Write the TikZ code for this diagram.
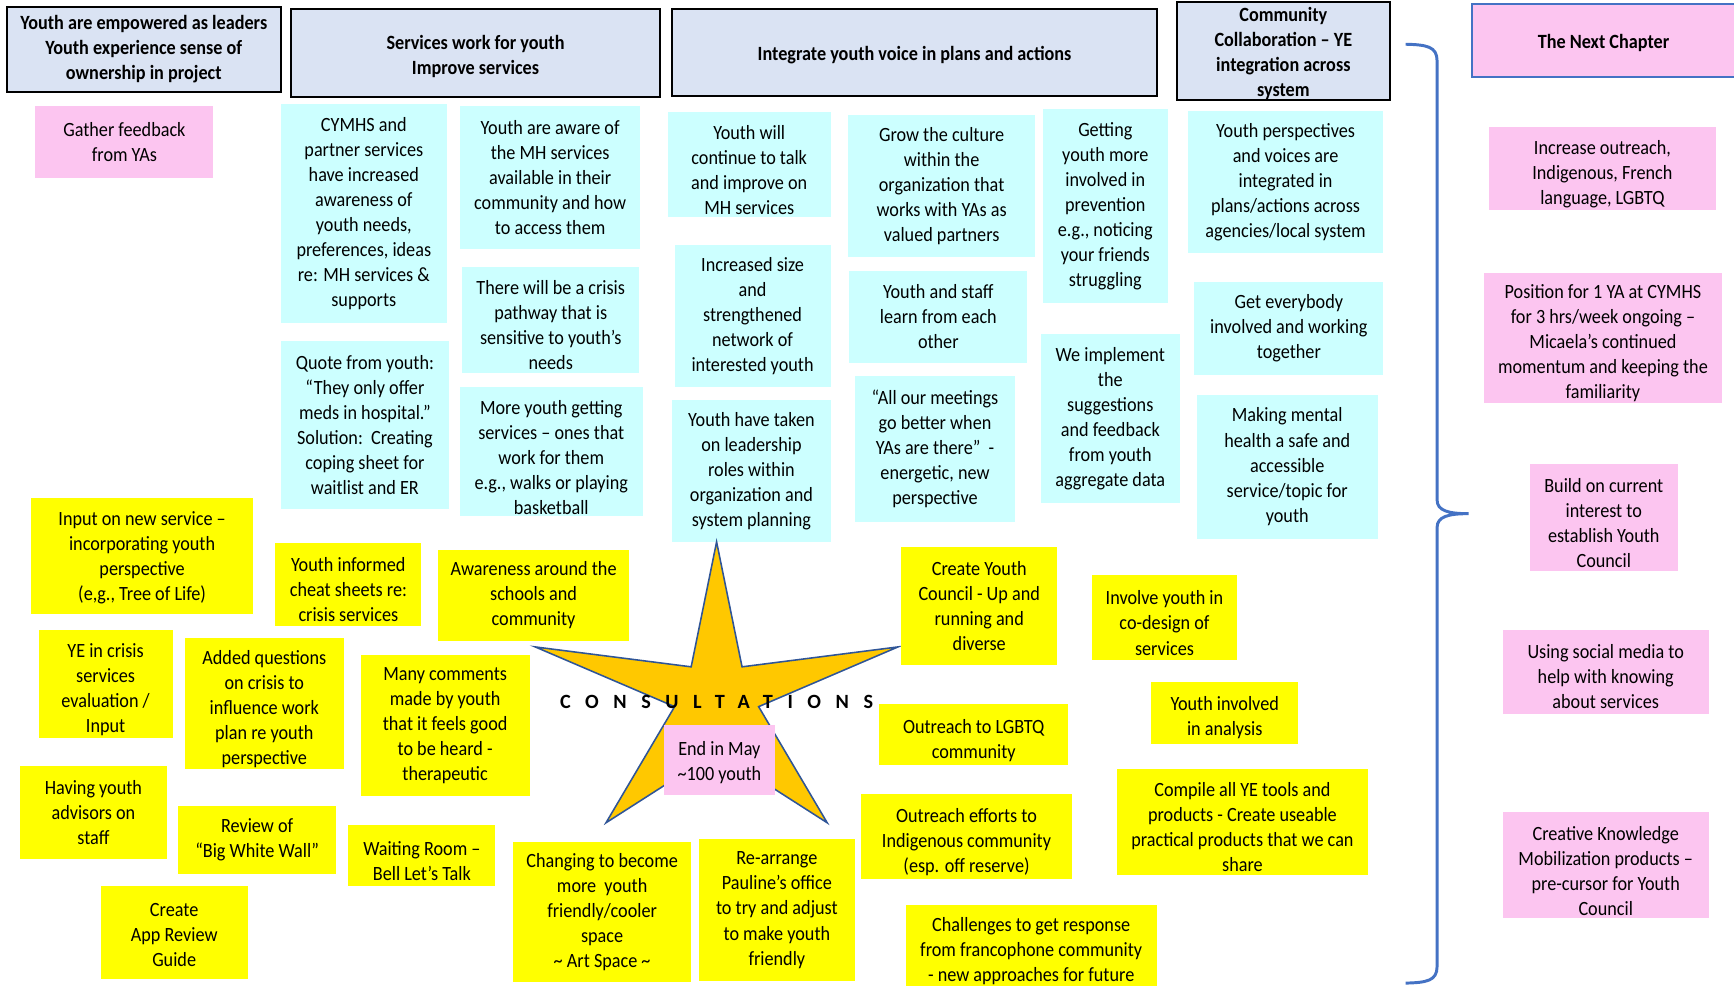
\documentclass[tikz,border=0pt]{standalone}
\usepackage{fontspec}
\setmainfont{Carlito}[FakeStretch=0.9]
\newfontfamily\spacedfont{Carlito}[LetterSpace=72]
\definecolor{headfill}{HTML}{DAE3F3}
\definecolor{aimfill}{HTML}{CCFFFF}
\definecolor{actfill}{HTML}{FFFF00}
\definecolor{notefill}{HTML}{FCC5F0}
\definecolor{starfill}{HTML}{FFC800}
\definecolor{starline}{HTML}{2F5597}
\definecolor{bracecol}{HTML}{4472C4}
\newcommand\cardfont{\fontsize{13}{16.1}\selectfont}
% taller first line, so the text sits a little low in its card
\newcommand\low[1][16pt]{\rule{0pt}{#1}}

\begin{document}
\begin{tikzpicture}[
  x=0.025cm, y=-0.025cm,
  font=\cardfont,
  sz/.style 2 args={minimum width=#1*0.025cm, minimum height=#2*0.025cm},
  head/.style={draw=black, line width=1.3pt, fill=headfill, inner sep=0pt, align=center, font=\cardfont\bfseries},
  nextc/.style={draw=bracecol, line width=1.1pt, fill=notefill, inner sep=0pt, align=center, font=\cardfont\bfseries},
  aim/.style={fill=aimfill, inner sep=0pt, align=center},
  act/.style={fill=actfill, inner sep=0pt, align=center},
  note/.style={fill=notefill, inner sep=0pt, align=center}
]
\useasboundingbox (0,0) rectangle (1568,891);

% --- outcome headers ---
\node[head, sz={248}{77}] (lead)  at (130,44.5)   {Youth are empowered as leaders\\Youth experience sense of\\ownership in project};
\node[head, sz={334}{80}] (serv)  at (430,48)     {\low[13pt]Services work for youth\\Improve services};
\node[head, sz={438}{79}] (voice) at (827,47.5)   {\low[13pt]Integrate youth voice in plans and actions};
\node[head, sz={193}{84}] (comm)  at (1160.5,46)  {\low[13pt]Community\\Collaboration – YE\\integration across\\system};
\node[nextc, sz={238}{66}] (next) at (1450,36.5)  {\low[13pt]The Next Chapter};

% --- outcomes (cyan) ---
\node[note, sz={161}{65}]  (gather)    at (112.5,128.5) {Gather feedback\\from YAs};
\node[aim, sz={150}{198}]  (cymhs)     at (329,193)     {CYMHS and\\partner services\\have increased\\awareness of\\youth needs,\\preferences, ideas\\re: MH services \&\\supports};
\node[aim, sz={163}{129}]  (aware)     at (497.5,160.5) {Youth are aware of\\the MH services\\available in their\\community and how\\to access them};
\node[aim, sz={160}{96}]   (crisis)    at (498,289)     {\low There will be a crisis\\pathway that is\\sensitive to youth’s\\needs};
\node[aim, sz={152}{152}]  (quote)     at (330,384)     {Quote from youth:\\“They only offer\\meds in hospital.”\\Solution:\ \ Creating\\coping sheet for\\waitlist and ER};
\node[aim, sz={165}{117}]  (more)      at (498.5,408.5) {\low More youth getting\\services – ones that\\work for them\\e.g., walks or playing\\basketball};
\node[aim, sz={147}{95}]   (talk)      at (677.5,148.5) {\low Youth will\\continue to talk\\and improve on\\MH services};
\node[aim, sz={169}{128}]  (culture)   at (851.5,168)   {Grow the culture\\within the\\organization that\\works with YAs as\\valued partners};
\node[aim, sz={113}{175}]  (prevent)   at (999.5,186.5) {Getting\\youth more\\involved in\\prevention\\e.g., noticing\\your friends\\struggling};
\node[aim, sz={177}{129}]  (persp)     at (1162.5,164.5){Youth perspectives\\and voices are\\integrated in\\plans/actions across\\agencies/local system};
\node[aim, sz={141}{128}]  (network)   at (680.5,286)   {Increased size\\and\\strengthened\\network of\\interested youth};
\node[aim, sz={161}{83}]   (learn)     at (848.5,286.5) {Youth and staff\\learn from each\\other};
\node[aim, sz={171}{84}]   (together)  at (1165.5,297)  {Get everybody\\involved and working\\together};
\node[aim, sz={143}{128}]  (leader)    at (679.5,426)   {Youth have taken\\on leadership\\roles within\\organization and\\system planning};
\node[aim, sz={145}{132}]  (meet)      at (845.5,406)   {“All our meetings\\go better when\\YAs are there”\ \ -\\energetic, new\\perspective};
\node[aim, sz={126}{153}]  (implement) at (1004,378.5)  {We implement\\the\\suggestions\\and feedback\\from youth\\aggregate data};
\node[aim, sz={164}{130}]  (mental)    at (1164,422)    {Making mental\\health a safe and\\accessible\\service/topic for\\youth};

% --- consultations star ---
\draw[fill=starfill, draw=starline, line width=1pt, line join=miter]
  (648,490) -- (671,603) -- (812,585) -- (686,639) -- (748,744) -- (648,680)
  -- (548,744) -- (610,639) -- (484,585) -- (625,603) -- cycle;
\node[font=\spacedfont\fontsize{13}{16}\selectfont\bfseries] (consult) at (648,635) {CONSULTATIONS};
\node[note, sz={101}{63}]  (endmay)    at (650.5,687.5) {\low[12pt]End in May\\\textasciitilde100 youth};

% --- activities (yellow) ---
\node[act, sz={201}{105}]  (input)     at (128.5,502.5) {\low[12pt]Input on new service –\\incorporating youth\\perspective\\(e,g., Tree of Life)};
\node[act, sz={132}{75}]   (cheat)     at (315,528.5)   {\low Youth informed\\cheat sheets re:\\crisis services};
\node[act, sz={173}{83}]   (schools)   at (482.5,538.5) {Awareness around the\\schools and\\community};
\node[act, sz={121}{97}]   (yecrisis)  at (95.5,618.5)  {\low YE in crisis\\services\\evaluation /\\Input};
\node[act, sz={144}{118}]  (added)     at (239,636)     {\low Added questions\\on crisis to\\influence work\\plan re youth\\perspective};
\node[act, sz={153}{128}]  (comments)  at (402.5,656)   {Many comments\\made by youth\\that it feels good\\to be heard -\\therapeutic};
\node[act, sz={133}{84}]   (advisors)  at (84.5,735)    {Having youth\\advisors on\\staff};
\node[act, sz={143}{61}]   (bigwall)   at (232.5,759.5) {Review of\\“Big White Wall”};
\node[act, sz={133}{55}]   (waiting)   at (381.5,773.5) {\low Waiting Room –\\Bell Let’s Talk};
\node[act, sz={133}{84}]   (appguide)  at (157.5,843)   {\low[12pt]Create\\App Review\\Guide};
\node[act, sz={161}{127}]  (artspace)  at (544.5,824.5) {Changing to become\\more\ \ youth\\friendly/cooler\\space\\\textasciitilde{} Art Space \textasciitilde};
\node[act, sz={141}{128}]  (pauline)   at (702.5,823)   {Re-arrange\\Pauline’s office\\to try and adjust\\to make youth\\friendly};
\node[act, sz={141}{106}]  (council)   at (885.5,548)   {Create Youth\\Council - Up and\\running and\\diverse};
\node[act, sz={132}{77}]   (codesign)  at (1053,558.5)  {\low Involve youth in\\co-design of\\services};
\node[act, sz={171}{55}]   (lgbtq)     at (880.5,664.5) {\low Outreach to LGBTQ\\community};
\node[act, sz={133}{56}]   (analysis)  at (1107.5,645)  {\low[14pt]Youth involved\\in analysis};
\node[act, sz={190}{77}]   (indig)     at (874,756.5)   {\low Outreach efforts to\\Indigenous community\\(esp. off reserve)};
\node[act, sz={227}{96}]   (compile)   at (1123.5,743)  {\low Compile all YE tools and\\products - Create useable\\practical products that we can\\share};
\node[act, sz={227}{84}]   (franco)    at (932.5,860)   {Challenges to get response\\from francophone community\\- new approaches for future};

% --- brace to the next chapter ---
\draw[bracecol, line width=1.9pt]
  (1271,40) .. controls (1290,40.5) and (1299.5,42) .. (1299.5,55) -- (1299.5,452)
  .. controls (1299.5,462) and (1310,464.5) .. (1328,464.5)
  .. controls (1310,464.5) and (1299.5,467) .. (1299.5,477) -- (1299.5,874)
  .. controls (1299.5,887) and (1290,888.5) .. (1271,889);

% --- next chapter ---
\node[note, sz={206}{75}]    (outreach) at (1449,152.5)   {\low Increase outreach,\\Indigenous, French\\language, LGBTQ};
\node[note, sz={215}{117}]   (position) at (1449.5,305.5) {\low Position for 1 YA at CYMHS\\for 3 hrs/week ongoing –\\Micaela’s continued\\momentum and keeping the\\familiarity};
\node[note, sz={133.5}{96}]  (ycouncil) at (1450.25,468)  {\low Build on current\\interest to\\establish Youth\\Council};
\node[note, sz={186}{76}]    (social)   at (1452,608)     {\low[14.5pt]Using social media to\\help with knowing\\about services};
\node[note, sz={186}{96}]    (creative) at (1452,782.5)   {\low Creative Knowledge\\Mobilization products –\\pre-cursor for Youth\\Council};
\end{tikzpicture}
\end{document}
